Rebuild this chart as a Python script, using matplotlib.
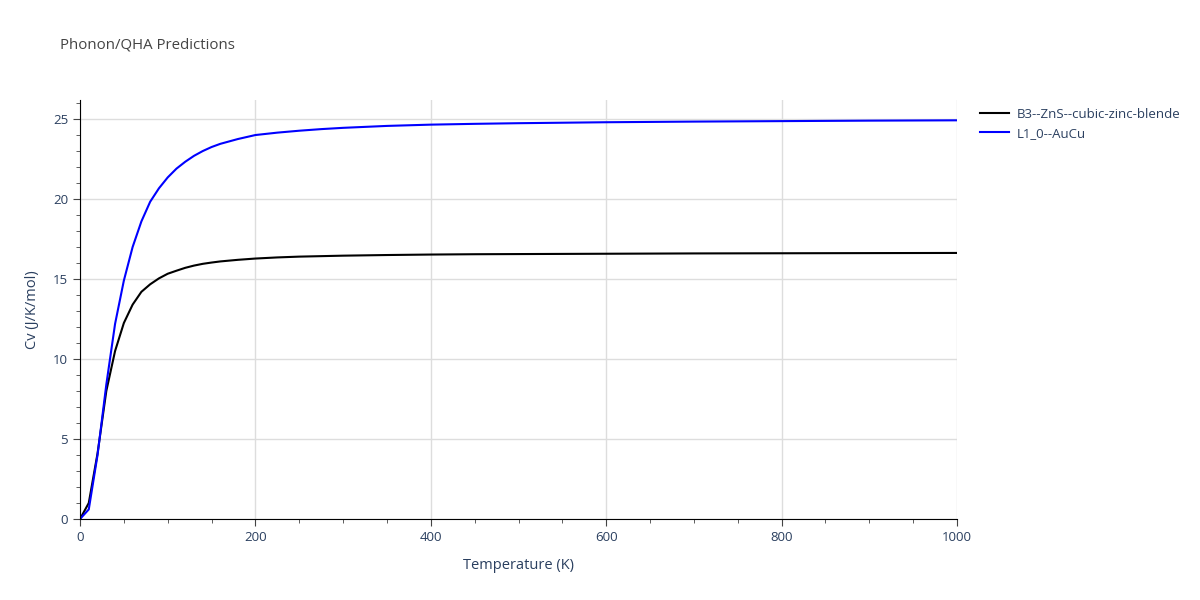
import matplotlib.pyplot as plt
from matplotlib.ticker import MultipleLocator

plt.rcParams['font.family'] = ['Open Sans', 'DejaVu Sans']

# 温度 (K)
temps = [0, 10, 20, 30, 40, 50, 60, 70, 80, 90, 100, 110, 120, 130, 140,
         150, 160, 180, 200, 225, 250, 275, 300, 350, 400, 450, 500, 600,
         700, 800, 900, 1000]
# B3--ZnS--cubic-zinc-blende
cv_zns = [0.0, 1.0, 4.1, 8.0, 10.5, 12.25, 13.4, 14.2, 14.67, 15.04, 15.33,
          15.52, 15.7, 15.84, 15.95, 16.03, 16.1, 16.2, 16.28, 16.35, 16.4,
          16.43, 16.46, 16.5, 16.53, 16.55, 16.56, 16.58, 16.6, 16.61,
          16.62, 16.63]
# L1_0--AuCu
cv_aucu = [0.0, 0.6, 4.0, 8.4, 12.2, 14.9, 17.0, 18.6, 19.83, 20.67, 21.35,
           21.9, 22.33, 22.7, 23.0, 23.25, 23.45, 23.75, 24.0, 24.15, 24.27,
           24.37, 24.45, 24.57, 24.65, 24.7, 24.74, 24.8, 24.84, 24.87,
           24.9, 24.92]

text_col = '#2a3f5f'

fig = plt.figure(figsize=(12, 6), dpi=100)
ax = fig.add_axes([80 / 1200, 81 / 600, 877 / 1200, 419 / 600])

ax.plot(temps, cv_zns, color='black', lw=1.5, label='B3--ZnS--cubic-zinc-blende')
ax.plot(temps, cv_aucu, color='blue', lw=1.5, label='L1_0--AuCu')

ax.set_xlim(0, 1000)
ax.set_ylim(0, 26.19)
ax.xaxis.set_major_locator(MultipleLocator(200))
ax.xaxis.set_minor_locator(MultipleLocator(50))
ax.yaxis.set_major_locator(MultipleLocator(5))
ax.yaxis.set_minor_locator(MultipleLocator(1))

ax.grid(True, which='major', color='#dddddd', lw=1)
ax.set_axisbelow(True)

# 只保留左、下两条坐标轴
ax.spines['top'].set_visible(False)
ax.spines['right'].set_visible(False)
ax.spines['left'].set_color('black')
ax.spines['bottom'].set_color('black')

ax.tick_params(which='major', direction='out', length=5, color='#444444',
               labelsize=9.5, labelcolor=text_col)
ax.tick_params(which='minor', direction='out', length=3, color='#444444')

ax.set_xlabel('Temperature (K)', fontsize=10.5, color=text_col, labelpad=10)
ax.set_ylabel('Cv (J/K/mol)', fontsize=10.5, color=text_col, labelpad=9)

fig.text(60 / 1200, 1 - 45 / 600, 'Phonon/QHA Predictions', fontsize=10.8,
         color='#444444', va='center')

ax.legend(loc='upper left', bbox_to_anchor=(980 / 1200, 1 - 108 / 600),
          bbox_transform=fig.transFigure, frameon=False, fontsize=9.5,
          handlelength=2.2, handletextpad=0.6, labelspacing=0.45,
          borderpad=0, borderaxespad=0, labelcolor=text_col)

fig.savefig('out.png', dpi=100)
